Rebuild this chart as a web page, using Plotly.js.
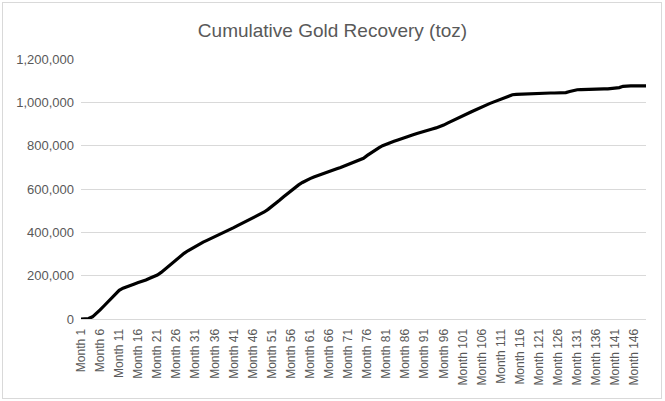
<!DOCTYPE html>
<html>
<head>
<meta charset="utf-8">
<script src="https://cdn.plot.ly/plotly-3.0.1.min.js"></script>
<style>
  html, body { margin: 0; padding: 0; background: #ffffff; }
  #wrap { position: relative; width: 665px; height: 401px; }
  #chart { position: absolute; left: 0; top: 0; width: 665px; height: 401px; }
  #frame { position: absolute; left: 2px; top: 2px; width: 658px; height: 395px; border: 1px solid #d9d9d9; pointer-events: none; }
</style>
</head>
<body>
<div id="wrap">
  <div id="chart"></div>
  <div id="frame"></div>
</div>
<script>
// Cumulative gold recovery (troy ounces) by month
const recovery = [
  0, 0, 2000, 10000, 25000, 42000, 60000, 78000, 95000, 115000,
  132000, 142000, 150000, 156000, 162000, 168000, 173000, 180000, 188000, 195000,
  203000, 215000, 230000, 245000, 262000, 277000, 290000, 303000, 315000, 326000,
  336000, 346000, 355000, 363000, 371000, 379000, 387000, 395000, 404000, 413000,
  422000, 431000, 440000, 448000, 456000, 464000, 473000, 483000, 494000, 506000,
  519000, 533000, 548000, 563000, 577000, 592000, 607000, 619000, 630000, 640000,
  648000, 655000, 662000, 668000, 674000, 681000, 687000, 693000, 699000, 706000,
  713000, 720000, 727000, 733000, 742000, 755000, 768000, 780000, 790000, 800000,
  808000, 815000, 820000, 826000, 833000, 840000, 845000, 850000, 856000, 862000,
  867000, 872000, 877000, 882000, 887000, 895000, 904000, 913000, 922000, 930000,
  938000, 946000, 954000, 962000, 971000, 979000, 986000, 994000, 1001000, 1008000,
  1015000, 1022000, 1029000, 1035000, 1037000, 1038000, 1039000, 1040000, 1041000, 1041000,
  1042000, 1042000, 1043000, 1043000, 1043000, 1043000, 1044000, 1045000, 1050000, 1055000,
  1058000, 1059000, 1060000, 1061000, 1061000, 1062000, 1062000, 1062000, 1062000, 1063000,
  1064000, 1068000, 1074000, 1076000, 1076000, 1076000, 1076000, 1076000, 1076000
];
const months = recovery.map((v, i) => "Month " + (i + 1));
const monthTicks = months.filter((m, i) => i % 5 === 0);
const yTicks = [0, 200000, 400000, 600000, 800000, 1000000, 1200000];
const yTickText = ["0", "200,000", "400,000", "600,000", "800,000", "1,000,000", "1,200,000"];
const chartTitle = "Cumulative Gold Recovery (toz)";

const trace = {
  x: months,
  y: recovery,
  type: "scatter",
  mode: "lines",
  line: { color: "#000000", width: 3.2 },
  hoverinfo: "x+y"
};

const layout = {
  width: 665,
  height: 401,
  margin: { l: 81, r: 19, t: 59, b: 82 },
  paper_bgcolor: "rgba(0,0,0,0)",
  plot_bgcolor: "#ffffff",
  showlegend: false,
  font: { family: "Liberation Sans, Arial, sans-serif", color: "#595959", size: 12 },
  title: {
    text: chartTitle,
    font: { family: "Liberation Sans, Arial, sans-serif", size: 19, color: "#595959" },
    x: 0.5, xanchor: "center",
    y: 0.925, yanchor: "middle", yref: "container"
  },
  xaxis: {
    type: "category",
    range: [0, months.length - 1],
    tickmode: "array",
    tickvals: monthTicks,
    ticktext: monthTicks,
    tickangle: -90,
    ticks: "",
    ticklabelstandoff: 4,
    showgrid: false,
    showline: true,
    linecolor: "#d9d9d9",
    linewidth: 1,
    zeroline: false,
    tickfont: { size: 12, color: "#595959" }
  },
  yaxis: {
    range: [0, 1200000],
    tickmode: "array",
    tickvals: yTicks,
    ticktext: yTickText,
    ticks: "",
    showgrid: true,
    gridcolor: "#d9d9d9",
    gridwidth: 1,
    zeroline: false,
    showline: false,
    ticklabelstandoff: 6,
    tickfont: { size: 13, color: "#595959" }
  }
};

Plotly.newPlot("chart", [trace], layout, { displayModeBar: false, staticPlot: true });
</script>
</body>
</html>
